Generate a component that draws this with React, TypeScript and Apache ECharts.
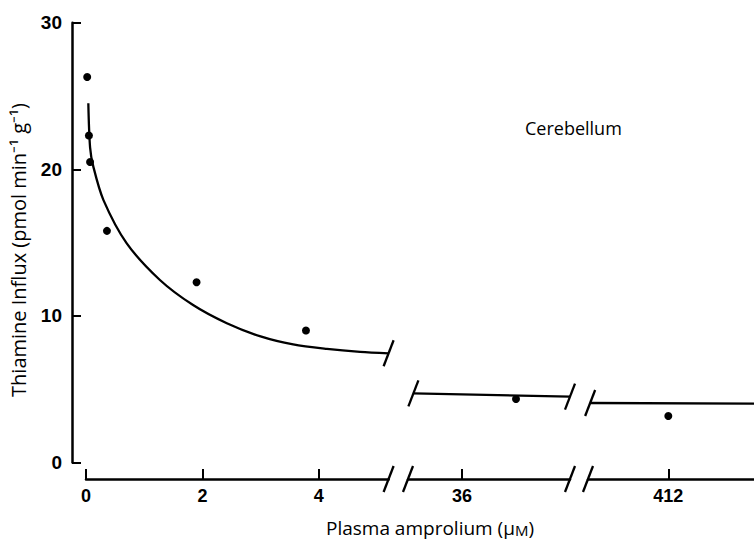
import React, { useEffect, useRef } from "react";
import * as echarts from "echarts";

// ---- axis ticks / ranges ----
const yTicks = [0, 10, 20, 30];
const seg1Ticks = [0, 2, 4];
const seg2Ticks = [36];
const seg3Ticks = [412];
const seg1Range = [0, 5.2];
const seg2Range = [35, 38];
const seg3Range = [410.5, 413.6];

// ---- measured points (plasma amprolium µM, thiamine influx) ----
const seg1PointsX = [0.02, 0.05, 0.07, 0.36, 1.9, 3.78];
const seg1PointsY = [26.3, 22.3, 20.5, 15.8, 12.3, 9.0];
const seg2PointsX = [37];
const seg2PointsY = [4.33];
const seg3PointsX = [412];
const seg3PointsY = [3.17];

// ---- fitted curve ----
const seg1CurveX = [0.04, 0.07, 0.125, 0.3, 0.7, 1.27, 1.84, 2.42, 3.0, 3.56, 4.14, 4.71, 5.2];
const seg1CurveY = [24.5, 21.5, 20.2, 17.9, 14.95, 12.45, 10.74, 9.5, 8.6, 8.05, 7.75, 7.55, 7.45];
const seg2CurveX = [35.1, 38];
const seg2CurveY = [4.72, 4.49];
const seg3CurveX = [410.54, 413.6];
const seg3CurveY = [4.06, 4.02];

const FONT = '"Liberation Sans", Arial, Helvetica, sans-serif';
const TFONT = '"Open Sans", "Liberation Sans", Arial, sans-serif';
const AXIS_OFFSET = 16.5;

const zip = (xs: number[], ys: number[]) => xs.map((x, i) => [x, ys[i]]);

export default function App() {
  const ref = useRef<HTMLDivElement>(null);
  useEffect(() => {
    if (!ref.current) return;
    const chart = echarts.init(ref.current, undefined, { renderer: "svg" });

    const grids = [
      { left: 86, width: 302.6, top: 22.7, bottom: 78.5 },
      { left: 408, width: 162, top: 22.7, bottom: 78.5 },
      { left: 588, right: 0, top: 22.7, bottom: 78.5 },
    ];
    const ranges = [seg1Range, seg2Range, seg3Range];
    const ticks = [seg1Ticks, seg2Ticks, seg3Ticks];

    const xAxes = ranges.map((r, i) => ({
      type: "value",
      gridIndex: i,
      min: r[0],
      max: r[1],
      position: "bottom",
      offset: AXIS_OFFSET,
      axisLine: { show: true, onZero: false, lineStyle: { color: "#000", width: 2.5 } },
      axisTick: {
        show: true,
        inside: true,
        length: 10,
        customValues: ticks[i],
        lineStyle: { color: "#000", width: 2 },
      },
      axisLabel: {
        show: true,
        customValues: ticks[i],
        margin: 8,
        fontSize: 18,
        fontWeight: "bold",
        color: "#000",
        fontFamily: FONT,
      },
      splitLine: { show: false },
    }));

    const yAxes = [0, 1, 2].map((i) => ({
      type: "value",
      gridIndex: i,
      min: 0,
      max: 30,
      interval: 10,
      show: i === 0,
      position: "left",
      offset: 14,
      axisLine: { show: true, onZero: false, lineStyle: { color: "#000", width: 2.5 } },
      axisTick: {
        show: true,
        inside: true,
        length: 9,
        customValues: yTicks,
        lineStyle: { color: "#000", width: 2 },
      },
      axisLabel: {
        show: true,
        customValues: yTicks,
        margin: 10,
        fontSize: 19,
        fontWeight: "bold",
        color: "#000",
        fontFamily: FONT,
      },
      splitLine: { show: false },
    }));

    const curves = [
      zip(seg1CurveX, seg1CurveY),
      zip(seg2CurveX, seg2CurveY),
      zip(seg3CurveX, seg3CurveY),
    ];
    const points = [
      zip(seg1PointsX, seg1PointsY),
      zip(seg2PointsX, seg2PointsY),
      zip(seg3PointsX, seg3PointsY),
    ];

    // break marks: [x, y, kind] kind 0 = on curve, 1 = on x axis
    const breaks = [
      [
        [...curves[0][curves[0].length - 1], 0],
        [seg1Range[1], 0, 1],
      ],
      [
        [...curves[1][0], 0],
        [...curves[1][curves[1].length - 1], 0],
        [seg2Range[0], 0, 1],
        [seg2Range[1], 0, 1],
      ],
      [
        [...curves[2][0], 0],
        [seg3Range[0], 0, 1],
      ],
    ];

    const series: any[] = [];
    for (let i = 0; i < 3; i++) {
      series.push({
        type: "line",
        xAxisIndex: i,
        yAxisIndex: i,
        data: curves[i],
        showSymbol: false,
        smooth: i === 0 ? 0.3 : false,
        lineStyle: { color: "#000", width: 2.3 },
        silent: true,
      });
      series.push({
        type: "scatter",
        xAxisIndex: i,
        yAxisIndex: i,
        data: points[i],
        symbolSize: 8,
        itemStyle: { color: "#000", opacity: 1 },
        silent: true,
      });
      series.push({
        type: "custom",
        xAxisIndex: i,
        yAxisIndex: i,
        data: breaks[i],
        silent: true,
        clip: false,
        renderItem: (params: any, api: any) => {
          const x = api.value(0);
          const y = api.value(1);
          const kind = api.value(2);
          const p = api.coord([x, y]);
          let cy = p[1];
          if (kind === 1) cy = api.coord([x, 0])[1] + AXIS_OFFSET;
          return {
            type: "line",
            shape: { x1: p[0] - 5, y1: cy + 13, x2: p[0] + 5, y2: cy - 13 },
            style: { stroke: "#000", lineWidth: 2.3 },
          };
        },
      });
    }

    chart.setOption({
      animation: false,
      backgroundColor: "#fff",
      grid: grids,
      xAxis: xAxes,
      yAxis: yAxes,
      series,
      graphic: [
        {
          type: "text",
          x: 18,
          y: 250,
          rotation: Math.PI / 2,
          style: {
            text: "Thiamine Influx (pmol min\u207B\u00B9 g\u207B\u00B9)",
            align: "center",
            verticalAlign: "middle",
            font: `500 20px ${TFONT}`,
            fill: "#000",
          },
        },
        {
          type: "text",
          x: 430,
          y: 528,
          style: {
            text: "{a|Plasma amprolium (\u03BC}{m|M}{a|)}",
            align: "center",
            verticalAlign: "middle",
            rich: {
              a: { fontSize: 19, fontWeight: 500, fontFamily: TFONT, lineHeight: 22, fill: "#000" },
              m: { fontSize: 15, fontWeight: 500, fontFamily: TFONT, lineHeight: 22, fill: "#000", padding: [3, 0, 0, 0] },
            },
          } as any,
        },
        {
          type: "text",
          x: 525,
          y: 128,
          style: {
            text: "Cerebellum",
            align: "left",
            verticalAlign: "middle",
            font: `500 18px ${TFONT}`,
            fill: "#000",
          },
        },
      ],
    } as any);

    return () => chart.dispose();
  }, []);

  return (
    <div
      ref={ref}
      style={{ position: "fixed", left: 0, top: 0, width: 754, height: 541, background: "#fff" }}
    />
  );
}
